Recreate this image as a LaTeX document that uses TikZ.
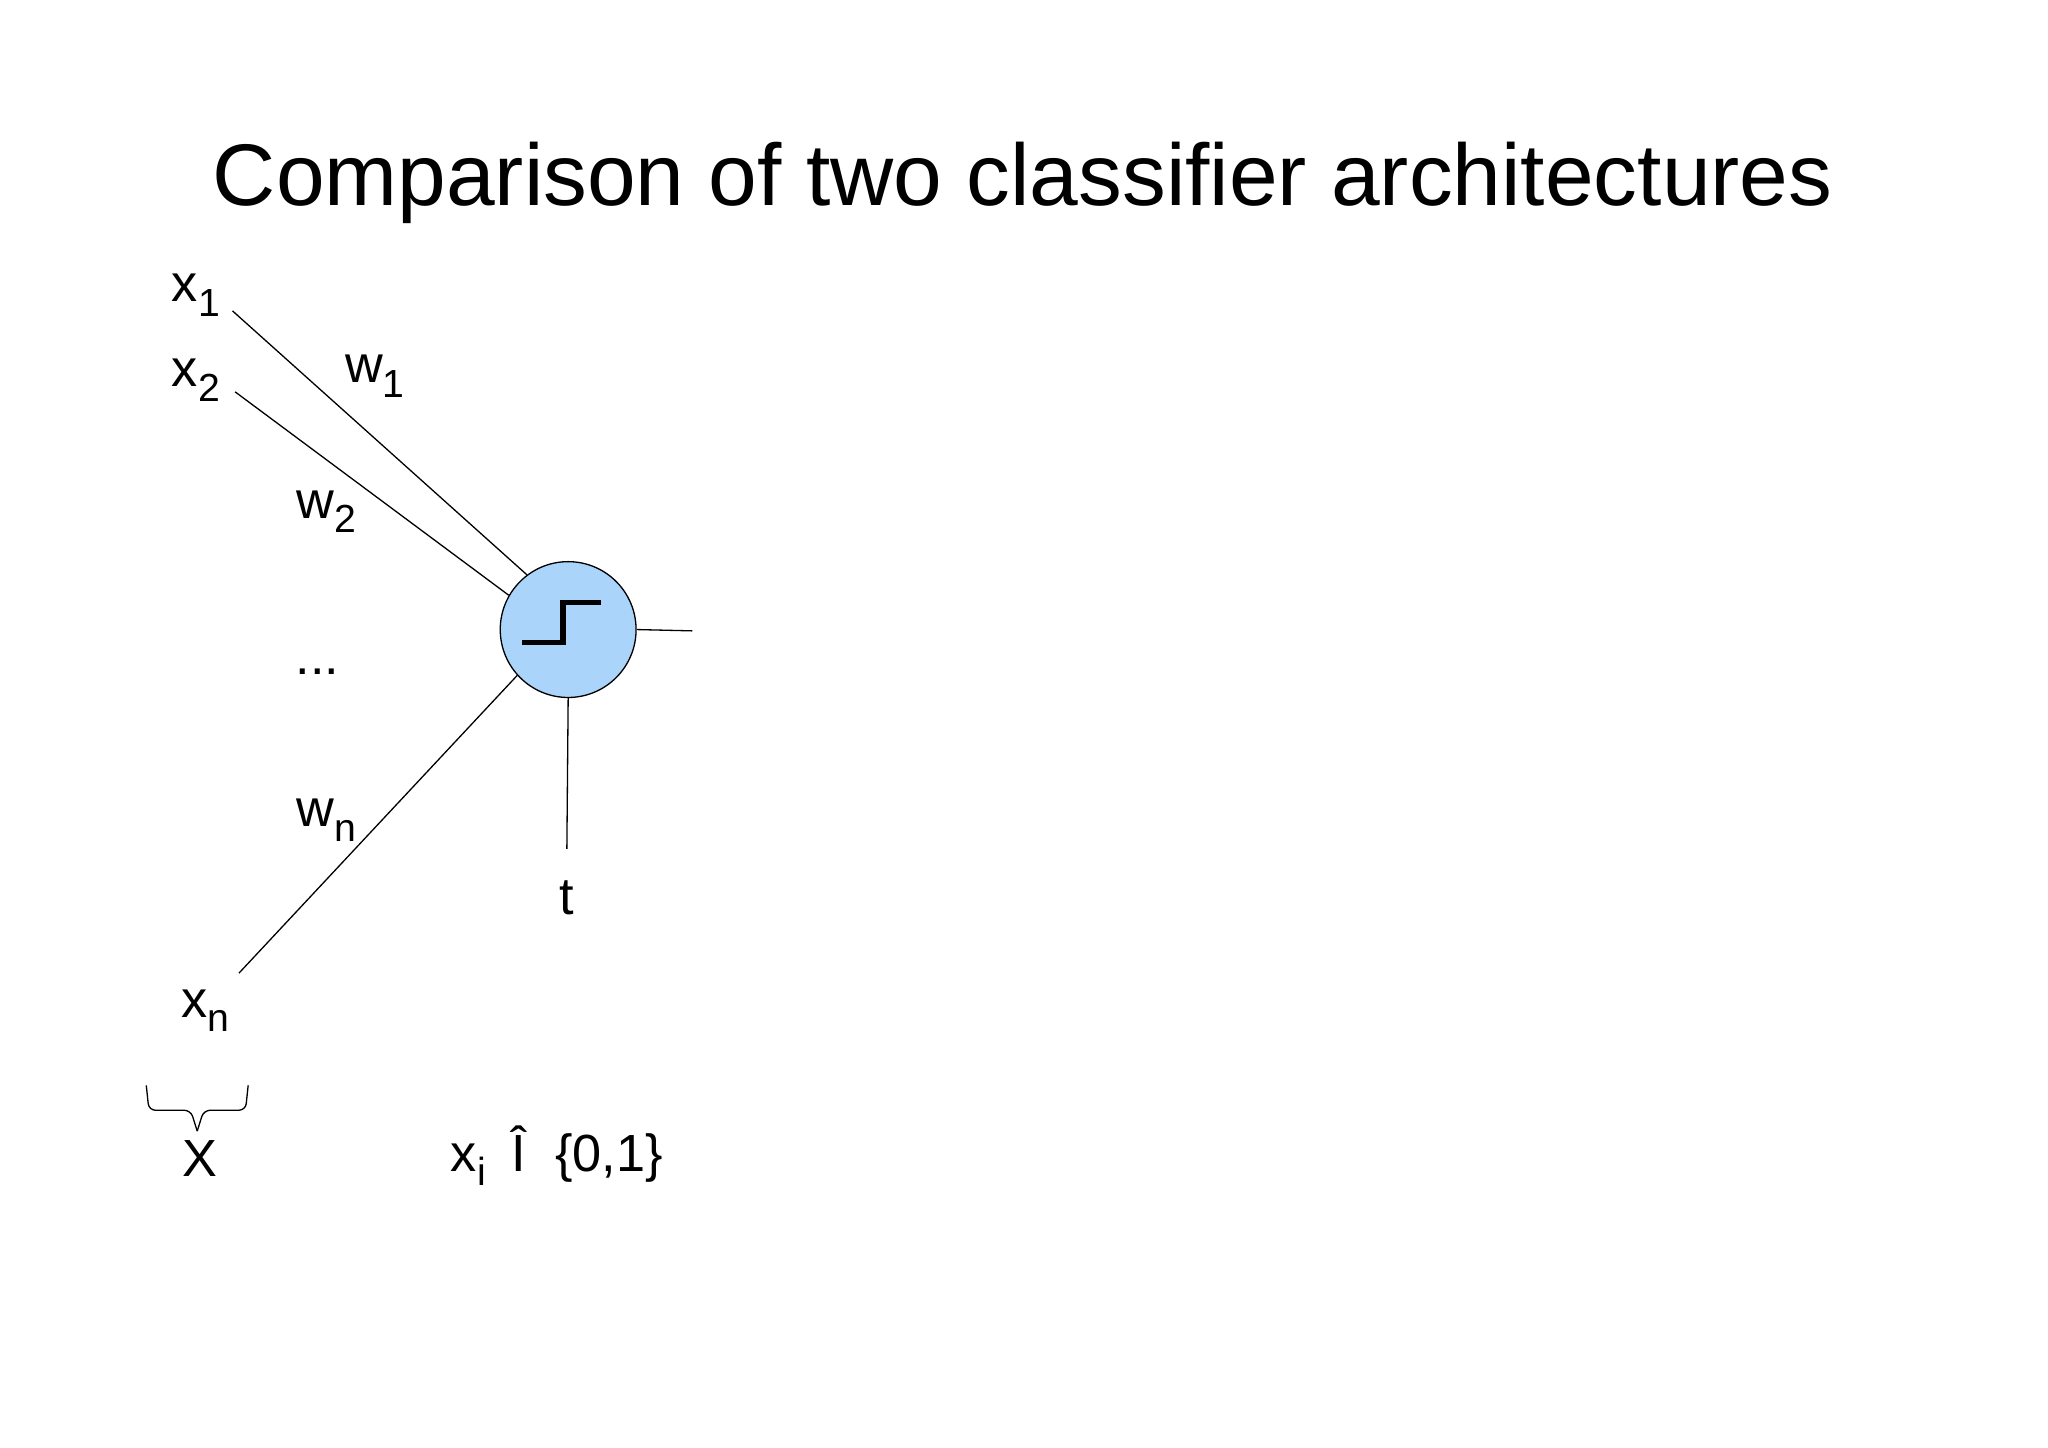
\documentclass[tikz,border=0pt]{standalone}
\usepackage{fontspec}
\setmainfont{Liberation Sans}
\newcommand{\subs}[1]{\raisebox{-11pt}{\fontsize{30}{32}\selectfont #1}}
\begin{document}
\begin{tikzpicture}[x=1pt,y=-1pt,
  lbl/.style={font=\fontsize{40}{46}\selectfont,inner sep=0pt},
  wire/.style={line width=1pt}]
\useasboundingbox (0,0) rectangle (1568,1108);
\node[font=\fontsize{67}{75}\selectfont] (title) at (783,140) {Comparison of two classifier architectures};
\node[circle,draw,line width=1pt,fill={rgb,255:red,170;green,212;blue,250},minimum size=104pt,inner sep=0pt] (n) at (435,482) {};
\node[lbl] (x1) at (150,226) {x\subs{1}};
\node[lbl] (x2) at (150,291) {x\subs{2}};
\node[lbl] (xn) at (157,774) {x\subs{n}};
\node[lbl] (w1) at (287,288) {w\subs{1}};
\node[lbl] (w2) at (250,392) {w\subs{2}};
\node[lbl] (dots) at (243,514) {...};
\node[lbl] (wn) at (250,628) {w\subs{n}};
\node[lbl] (t) at (434,687) {t};
\coordinate (a1) at (178,238);
\coordinate (a2) at (180,300);
\coordinate (an) at (183,745);
\coordinate (out) at (530,483);
\coordinate (tb) at (434,650);
\draw[wire] (a1) -- (n.127);
\draw[wire] (a2) -- (n.150);
\draw[wire] (an) -- (n.222);
\draw[wire] (n.east) -- (out);
\draw[wire] (n.south) -- (tb);
\draw[line width=4pt] (400,492) -- (431,492) -- (431,461) -- (460,461);
\draw[wire,rounded corners=5pt] (112,831) -- (114,850) -- (146,850) -- (151,866);
\draw[wire,rounded corners=5pt] (190,831) -- (188,850) -- (156,850) -- (151,866);
\node[lbl] (X) at (153,887) {X};
\node[lbl,anchor=west] (set) at (345,885) {x\subs{i}\hspace{20pt}Î\hspace{22pt}\{0,1\}};
\end{tikzpicture}
\end{document}
